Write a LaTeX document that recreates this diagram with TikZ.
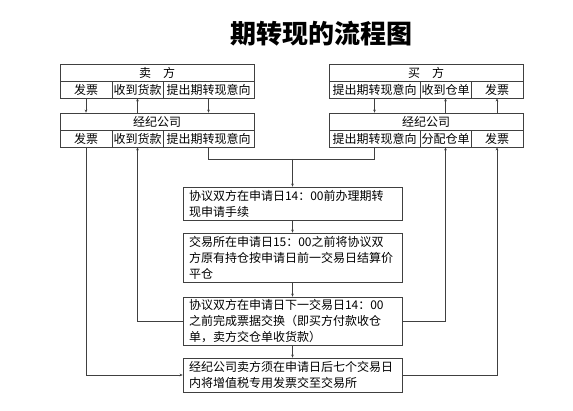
\documentclass[tikz,border=0pt]{standalone}
\usepackage{fontspec}
\newfontfamily\cjk{Noto Sans CJK SC}
\usetikzlibrary{positioning}
\usetikzlibrary{arrows.meta}

\tikzset{
  cell/.style = {draw = black!75, line width = 0.7pt, inner sep = 0pt, minimum height = 17pt, font = \cjk\fontsize{12}{14}\selectfont},
  flowbox/.style = {draw = black!75, line width = 0.7pt, align = left, text width = 207pt, inner xsep = 6pt, inner ysep = 0pt, font = \cjk\fontsize{12}{16}\selectfont},
  link/.style = {draw = black!75, line width = 0.6pt, -{Stealth[length = 3pt, width = 2.6pt]}},
  wire/.style = {draw = black!75, line width = 0.6pt},
}

\begin{document}
\begin{tikzpicture}[x = 1pt, y = -1pt]
\useasboundingbox (0, 0) rectangle (573, 411);
\node[font = \cjk\bfseries\fontsize{26}{30}\selectfont] (title) at (321, 34) {期转现的流程图};
% seller and its broker
\node[cell, minimum width = 194pt] (seller) at (157, 72.5) {卖\hspace{1em}方};
\node[cell, minimum width = 52pt] (s1) at (86, 89.5) {发票};
\node[cell, minimum width = 51pt] (s2) at (137.5, 89.5) {收到货款};
\node[cell, minimum width = 91pt] (s3) at (208.5, 89.5) {提出期转现意向};
\node[cell, minimum width = 194pt] (sbroker) at (157, 121.5) {经纪公司};
\node[cell, minimum width = 52pt] (sb1) at (86, 138.5) {发票};
\node[cell, minimum width = 51pt] (sb2) at (137.5, 138.5) {收到货款};
\node[cell, minimum width = 91pt] (sb3) at (208.5, 138.5) {提出期转现意向};
% buyer and its broker
\node[cell, minimum width = 194pt] (buyer) at (426, 72.5) {买\hspace{1em}方};
\node[cell, minimum width = 91pt] (b1) at (374.5, 89.5) {提出期转现意向};
\node[cell, minimum width = 51pt] (b2) at (445.5, 89.5) {收到仓单};
\node[cell, minimum width = 52pt] (b3) at (497, 89.5) {发票};
\node[cell, minimum width = 194pt] (bbroker) at (426, 121.5) {经纪公司};
\node[cell, minimum width = 91pt] (bb1) at (374.5, 138.5) {提出期转现意向};
\node[cell, minimum width = 51pt] (bb2) at (445.5, 138.5) {分配仓单};
\node[cell, minimum width = 52pt] (bb3) at (497, 138.5) {发票};
% steps
\node[flowbox, minimum height = 33pt] (f1) at (292.5, 203.5) {协议双方在申请日14：00前办理期转\\现申请手续};
\node[flowbox, minimum height = 49pt] (f2) at (292.5, 257.5) {交易所在申请日15：00之前将协议双\\方原有持仓按申请日前一交易日结算价\\平仓};
\node[flowbox, minimum height = 48pt] (f3) at (292.5, 321) {协议双方在申请日下一交易日14：00\\之前完成票据交换（即买方付款收仓\\单，卖方交仓单收货款）};
\node[flowbox, minimum height = 34pt] (f4) at (292.5, 375) {经纪公司卖方须在申请日后七个交易日\\内将增值税专用发票交至交易所};
\coordinate (join) at (292.5, 159);
% arrows between the two tables
\draw[link] (s1) -- (s1 |- sbroker.north);
\draw[link] (s2 |- sbroker.north) -- (s2);
\draw[link] (s3) -- (s3 |- sbroker.north);
\draw[link] (b1) -- (b1 |- bbroker.north);
\draw[link] (b2 |- bbroker.north) -- (b2);
\draw[link] (b3 |- bbroker.north) -- (b3);
% arrows of the steps
\draw[wire] (sb3) |- (join);
\draw[wire] (bb1) |- (join);
\draw[link] (join) -- (f1);
\draw[link] (f1) -- (f2);
\draw[link] (f2) -- (f3);
\draw[link] (f3) -- (f4);
\draw[link] (f3) -| (sb2);
\draw[link] (f3) -| (bb2);
\draw[link] (sb1) |- (f4);
\draw[link] (f4) -| (bb3);
\end{tikzpicture}
\end{document}
